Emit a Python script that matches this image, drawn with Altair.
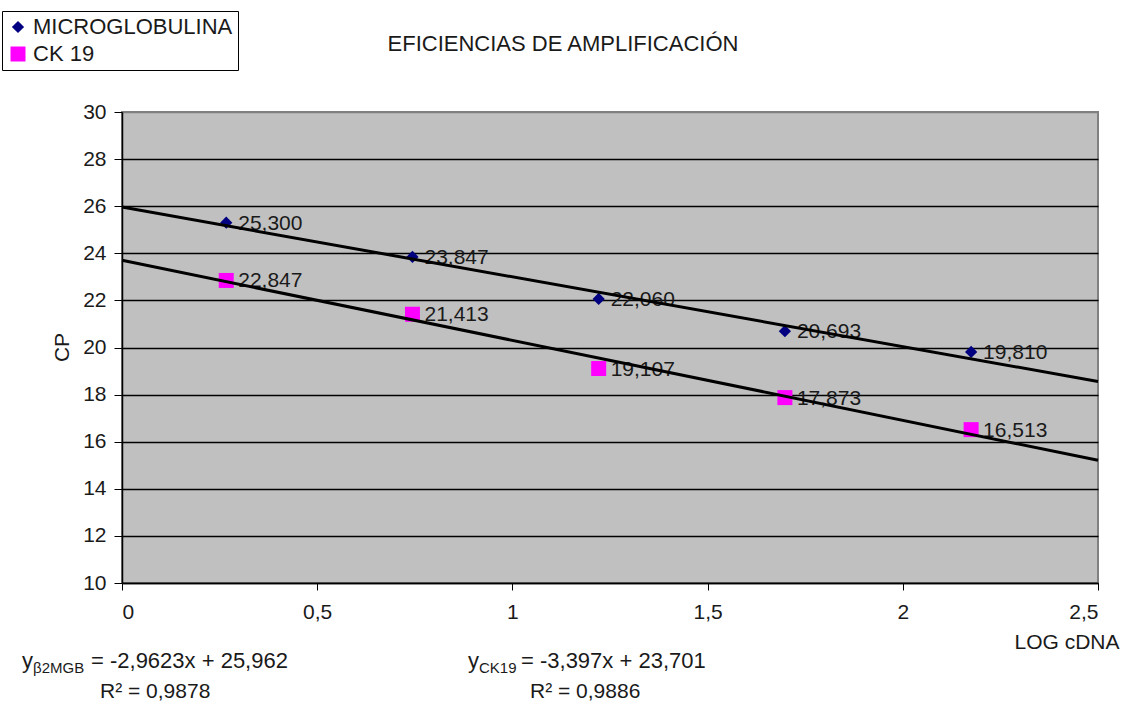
import altair as alt
import pandas as pd

# Log of cDNA amount for the 1:3 dilution series
log_cdna = [0.267, 0.744, 1.221, 1.698, 2.175]
# Crossing points (CP) per gene
cp_mgb = [25.300, 23.847, 22.060, 20.693, 19.810]
cp_ck19 = [22.847, 21.413, 19.107, 17.873, 16.513]
series_names = ["MICROGLOBULINA", "CK 19"]
# Linear fits reported for each gene
slopes = [-2.9623, -3.397]
intercepts = [25.962, 23.701]
r_squared = ["0,9878", "0,9886"]
x_ticks = [0, 0.5, 1, 1.5, 2, 2.5]
y_ticks = list(range(10, 31, 2))
chart_title = "EFICIENCIAS DE AMPLIFICACIÓN"

FONT = "Liberation Sans"
INK = "#1a1a1a"
FS = 21

points = pd.DataFrame({
    "x": log_cdna * 2,
    "cp": cp_mgb + cp_ck19,
    "gen": [series_names[0]] * len(cp_mgb) + [series_names[1]] * len(cp_ck19),
})

x_span = [x_ticks[0], x_ticks[-1]]
trend = pd.DataFrame({
    "x": x_span * 2,
    "cp": [slopes[i] * x + intercepts[i] for i in range(2) for x in x_span],
    "gen": [g for g in series_names for _ in x_span],
})

x_axis = alt.Axis(
    values=x_ticks,
    labelExpr="replace(toString(datum.value), '.', ',')",
    title="LOG cDNA", titleX=997, titleY=59, titleAlign="right",
    titleBaseline="middle", titleFont=FONT, titleFontSize=FS,
    titleFontWeight="normal", titleColor=INK,
    grid=False, tickSize=7, tickColor="black", domainColor="black",
    domainWidth=1.5, labelPadding=11, labelFont=FONT, labelFontSize=FS,
    labelColor=INK,
)
y_axis = alt.Axis(
    values=y_ticks, title="CP", titleX=-60, titleY=235, titleAngle=270,
    titleBaseline="middle", titleFont=FONT, titleFontSize=FS,
    titleFontWeight="normal", titleColor=INK,
    grid=True, gridWidth=1.5,
    gridColor={"condition": {"test": "datum.value === 30", "value": "#808080"},
               "value": "black"},
    tickSize=8, tickColor="black", domainColor="black", domainWidth=1.5,
    labelPadding=8, labelFont=FONT, labelFontSize=FS, labelColor=INK,
)

x_enc = alt.X("x:Q", scale=alt.Scale(domain=x_span, nice=False), axis=x_axis)
y_enc = alt.Y("cp:Q", scale=alt.Scale(domain=[10, 30], nice=False), axis=y_axis)

legend = alt.Legend(
    orient="none", legendX=-120, legendY=-101, title=None,
    fillColor="white", strokeColor="black", padding=5,
    labelFont=FONT, labelFontSize=22, labelColor=INK, labelOffset=4,
    labelLimit=400, rowPadding=5,
)

marks = alt.Chart(points).mark_point(filled=True, opacity=1, strokeWidth=0).encode(
    x=x_enc, y=y_enc,
    color=alt.Color("gen:N", sort=series_names,
                    scale=alt.Scale(domain=series_names, range=["#000080", "#FF00FF"]),
                    legend=legend),
    shape=alt.Shape("gen:N", sort=series_names,
                    scale=alt.Scale(domain=series_names, range=["diamond", "square"]),
                    legend=legend),
    size=alt.Size("gen:N", sort=series_names,
                  scale=alt.Scale(domain=series_names, range=[150, 225]),
                  legend=legend),
)

labels = alt.Chart(points).transform_calculate(
    lbl="replace(format(datum.cp, '.3f'), '.', ',')"
).mark_text(align="left", baseline="middle", dx=12, dy=1,
            font=FONT, fontSize=FS, color=INK).encode(
    x="x:Q", y="cp:Q", text="lbl:N",
)

lines = alt.Chart(trend).mark_line(color="black", strokeWidth=3).encode(
    x="x:Q", y="cp:Q", detail="gen:N",
)


def note(text, x, y, size=FS, align="left"):
    return alt.Chart(pd.DataFrame({"k": [0]})).mark_text(
        align=align, baseline="alphabetic", font=FONT, fontSize=size, color=INK
    ).encode(x=alt.value(x), y=alt.value(y), text=alt.value(text))


def fmt(v):
    return str(v).replace(".", ",")


eq_mgb = f"= {fmt(slopes[0])}x + {fmt(intercepts[0])}"
eq_ck = f"= {fmt(slopes[1])}x + {fmt(intercepts[1])}"

notes = [
    note(chart_title, 441, -61, size=22, align="center"),
    note("y", -100, 556, size=22),
    note("β2MGB", -89, 561, size=15),
    note(eq_mgb, -31, 556, size=22),
    note(f"R² = {r_squared[0]}", -22, 586),
    note("y", 346, 556, size=22),
    note("CK19", 357, 561, size=15),
    note(eq_ck, 399, 556, size=22),
    note(f"R² = {r_squared[1]}", 408, 586),
]

chart = alt.layer(marks, labels, lines, *notes).properties(
    width=976, height=471,
    padding={"left": 122, "top": 112, "right": 28, "bottom": 121},
    autosize="none",
    background="white",
).configure_view(fill="#C0C0C0", stroke="#808080", strokeWidth=2)

chart.save("out.html", embed_options={"renderer": "svg", "actions": False})
